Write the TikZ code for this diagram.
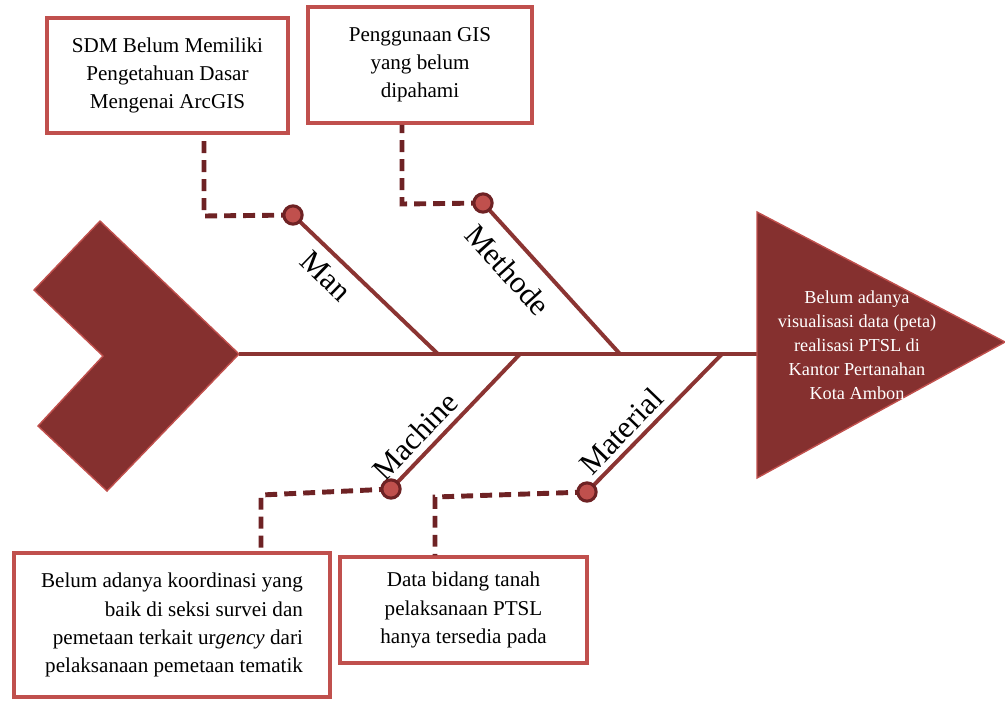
\documentclass[tikz,border=0pt]{standalone}
\usepackage{fontspec}
\setmainfont{Liberation Serif}
\usetikzlibrary{positioning}
\definecolor{boneRed}{RGB}{139,52,50}
\definecolor{headRed}{RGB}{133,48,47}
\definecolor{edgeRed}{RGB}{192,80,77}
\definecolor{linkRed}{RGB}{110,34,36}

\begin{document}
\begin{tikzpicture}[x=0.025cm, y=-0.025cm,
  causebox/.style={draw=edgeRed, line width=2.5pt, fill=white, inner sep=0pt,
    font=\fontsize{15}{20}\selectfont},
  bone/.style={draw=boneRed, line width=2.8pt},
  link/.style={draw=linkRed, line width=3.5pt, dash pattern=on 8.5pt off 5pt},
  knot/.style={circle, fill=edgeRed, draw=linkRed, line width=2.2pt,
    minimum size=13pt, inner sep=0pt},
  category/.style={font=\fontsize{22}{26}\selectfont}]
  \useasboundingbox (0,0) rectangle (1005,700);

  % Fish tail
  \fill[headRed, draw=edgeRed, line width=1pt]
    (100,221) -- (239,354) -- (107,491) -- (38,426) -- (103,356) -- (34,290) -- cycle;
  \coordinate (tail) at (239,354);
  \coordinate (head) at (757,354);

  % Spine
  \draw[bone] (tail) -- (head);

  % Fish head (effect)
  \fill[headRed, draw=edgeRed, line width=1pt] (757,212) -- (1005,342) -- (757,478) -- cycle;
  \node[text=white, align=center, font=\fontsize{13}{17}\selectfont] (effect) at (857,345)
    {Belum adanya\\visualisasi data (peta)\\realisasi PTSL di\\Kantor Pertanahan\\Kota Ambon};

  % Bone ends on the spine and at the knots
  \coordinate (manRoot) at (438,354);
  \coordinate (methodeRoot) at (620,354);
  \coordinate (machineRoot) at (520,354);
  \coordinate (materialRoot) at (722,354);
  \coordinate (manEnd) at (293,215);
  \coordinate (methodeEnd) at (483,203);
  \coordinate (machineEnd) at (391,489);
  \coordinate (materialEnd) at (587,492);

  \draw[bone] (manEnd) -- (manRoot);
  \draw[bone] (methodeEnd) -- (methodeRoot);
  \draw[bone] (machineEnd) -- (machineRoot);
  \draw[bone] (materialEnd) -- (materialRoot);

  % Category labels
  \node[category, rotate=-44] (manLabel) at (326,276) {Man};
  \node[category, rotate=-48] (methodeLabel) at (508,270) {Methode};
  \node[category, rotate=46] (machineLabel) at (415,436) {Machine};
  \node[category, rotate=46] (materialLabel) at (621,431) {Material};

  % Cause boxes
  \node[causebox, align=center, minimum width=241*0.025cm, minimum height=115*0.025cm]
    (sdmBox) at (167.5,75.5) {SDM Belum Memiliki\\Pengetahuan Dasar\\Mengenai ArcGIS};
  \node[causebox, align=center, minimum width=224*0.025cm, minimum height=116*0.025cm]
    (gisBox) at (420,65) {Penggunaan GIS\\yang belum\\dipahami};
  \node[causebox, align=right, minimum width=316*0.025cm, minimum height=144*0.025cm]
    (koordBox) at (172,625) {Belum adanya koordinasi yang\\baik di seksi survei dan\\pemetaan terkait ur\textit{gency} dari\\pelaksanaan pemetaan tematik};
  \node[causebox, align=center, minimum width=247*0.025cm, minimum height=106*0.025cm]
    (dataBox) at (463.5,610) {Data bidang tanah\\pelaksanaan PTSL\\hanya tersedia pada};

  % Dashed links from knots to boxes
  \coordinate (manBend) at (204,216);
  \coordinate (methodeBend) at (402,204);
  \coordinate (machineBend) at (261,495);
  \coordinate (materialBend) at (435,497);
  \draw[link] (manEnd) -- (manBend) -- (manBend |- sdmBox.south);
  \draw[link] (methodeEnd) -- (methodeBend) -- (methodeBend |- gisBox.south);
  \draw[link] (machineEnd) -- (machineBend) -- (machineBend |- koordBox.north);
  \draw[link] (materialEnd) -- (materialBend) -- (materialBend |- dataBox.north);

  % Knots
  \node[knot] (manKnot) at (manEnd) {};
  \node[knot] (methodeKnot) at (methodeEnd) {};
  \node[knot] (machineKnot) at (machineEnd) {};
  \node[knot] (materialKnot) at (materialEnd) {};
\end{tikzpicture}
\end{document}
